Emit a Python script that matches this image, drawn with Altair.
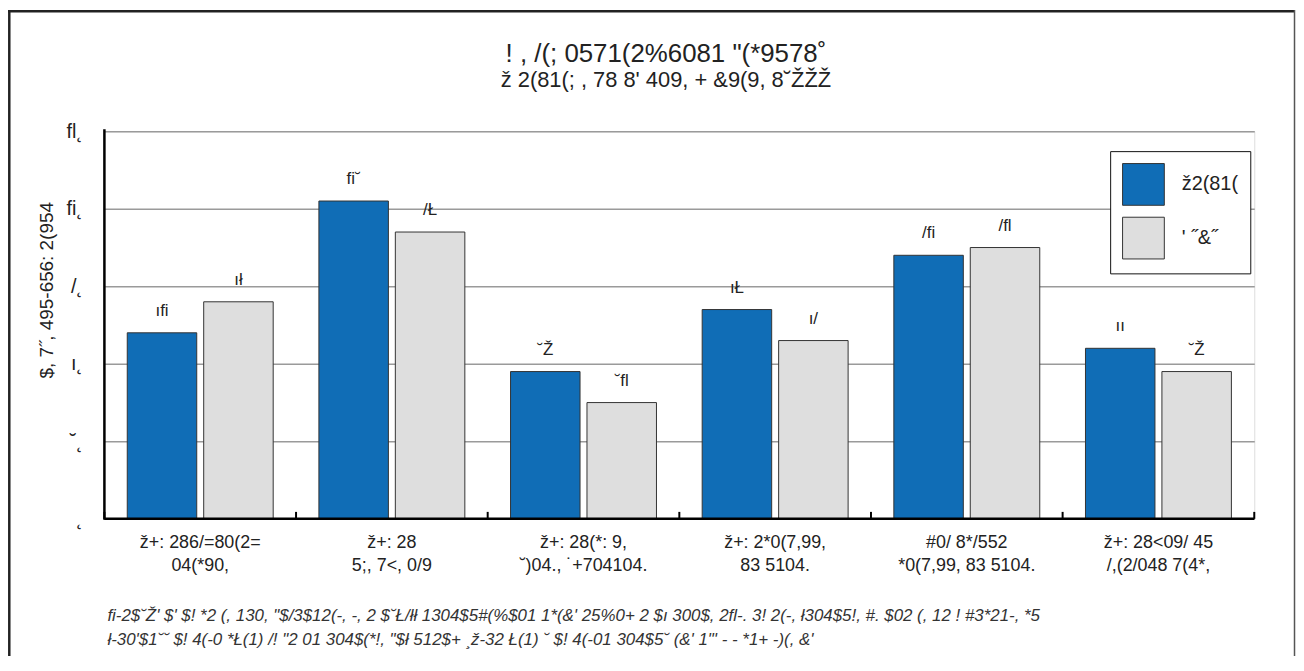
import json
import altair as alt
import pandas as pd

# ---------------- data ----------------
categories = [
    "ž+: 286/=80(2=|04(*90,",
    "ž+: 28|5;, 7<, 0/9",
    "ž+: 28(*: 9,|˘)04., ˙+704104.",
    "ž+: 2*0(7,99,|83 5104.",
    "#0/ 8*/552|*0(7,99, 83 5104.",
    "ž+: 28<09/ 45|/,(2/048 7(4*,",
]
series_names = ["ž2(81(", "'  ˝&˝"]
values_blue = [24, 41, 19, 27, 34, 22]
values_gray = [28, 37, 15, 23, 35, 19]
y_ticks = [0, 10, 20, 30, 40, 50]
y_tick_labels = ["˛", "˘˛", "ı˛", "/˛", "fi˛", "fl˛"]
digit_glyphs = {"0": "˛", "1": "˘", "2": "ı", "3": "/", "4": "fi",
                "5": "fl", "6": "6", "7": "Ł", "8": "ł", "9": "Ž"}

title_1 = '! , /(; 0571(2%6081 "(*9578˚'
title_2 = "ž 2(81(; , 78 8' 409, + &9(9, 8˘ŽŽŽ"
y_title = "$, 7˝, 495-656: 2(954"
note_1 = ("fi-2$˘Ž' $' $! *2 (, 130, \"$/3$12(-, -, 2 $˘Ł/łł 1304$5#(%$01 1*(&' "
          "25%0+ 2 $ı 300$, 2fl-. 3! 2(-, ł304$5!, #. $02 (, 12 ! #3*21-, *5")
note_2 = ("ł-30'$1˘˘ $! 4(-0 *Ł(1) /! \"2 01 304$(*!, \"$ł 512$+ ¸ž-32 Ł(1) ˘ $! "
          "4(-01 304$5˘ (&' 1\"' - - *1+ -)(, &'")

BLUE = "#106db6"
GRAY = "#dedede"
FONT = "Liberation Sans, Arial, sans-serif"

W, H = 1157, 390

rows = []
for c, b, g in zip(categories, values_blue, values_gray):
    rows.append({"cat": c, "series": series_names[0], "value": b})
    rows.append({"cat": c, "series": series_names[1], "value": g})
df = pd.DataFrame(rows)
df["label"] = df["value"].map(lambda v: "".join(digit_glyphs[ch] for ch in str(v)))

x_enc = alt.X(
    "cat:N", sort=categories,
    scale=alt.Scale(paddingInner=0, paddingOuter=0),
    axis=alt.Axis(title=None, labelAngle=0, ticks=False, domain=False,
                  labelExpr="split(datum.label, '|')", labelFontSize=18,
                  labelPadding=15, labelLineHeight=23, labelColor="#222",
                  labelFont=FONT),
)
xoff_enc = alt.XOffset("series:N", sort=series_names,
                       scale=alt.Scale(paddingInner=0.0909, paddingOuter=0.299))
y_enc = alt.Y(
    "value:Q", scale=alt.Scale(domain=[0, 50]),
    axis=alt.Axis(title=None, values=y_ticks, ticks=False, domain=False,
                  grid=True, gridColor="#9a9a9a", gridWidth=1.5,
                  labelExpr=json.dumps(y_tick_labels) + "[round(datum.value / 10)]",
                  labelFontSize=20, labelPadding=22, labelColor="#222",
                  labelFont=FONT),
)

bars = alt.Chart(df).mark_bar(stroke="#333", strokeWidth=1).encode(
    x=x_enc, xOffset=xoff_enc, y=y_enc,
    color=alt.Color("series:N", sort=series_names,
                    scale=alt.Scale(domain=series_names, range=[BLUE, GRAY]),
                    legend=alt.Legend(title=None, orient="none", legendX=1012, legendY=20,
                                      fillColor="white", strokeColor="#111",
                                      padding=12, symbolType="square", symbolSize=1764,
                                      symbolStrokeColor="#333", symbolStrokeWidth=1,
                                      labelFontSize=20, labelOffset=17, rowPadding=7,
                                      labelFont=FONT, labelColor="#222")),
)

bar_labels = alt.Chart(df).mark_text(
    dy=-13, baseline="bottom", fontSize=17, font=FONT, color="#222"
).encode(
    x=alt.X("cat:N", sort=categories), xOffset=alt.XOffset("series:N", sort=series_names),
    y="value:Q", text="label:N",
)

tick_df = pd.DataFrame({"cat": categories})
ticks = alt.Chart(tick_df).mark_rule(color="black", strokeWidth=2).encode(
    x=alt.X("cat:N", sort=categories, bandPosition=0),
    y=alt.value(H), y2=alt.value(H - 7),
)

one = pd.DataFrame({"k": [0]})
end_tick = alt.Chart(one).mark_rule(color="black", strokeWidth=2).encode(
    x=alt.value(W), y=alt.value(H), y2=alt.value(H - 7))
x_line = alt.Chart(one).mark_rule(color="black", strokeWidth=2.5).encode(
    x=alt.value(0), x2=alt.value(W), y=alt.value(H))
y_line = alt.Chart(one).mark_rule(color="black", strokeWidth=2.5).encode(
    x=alt.value(0), y=alt.value(-2), y2=alt.value(H + 1))

# outer frame
frame_top = alt.Chart(one).mark_rule(color="#222", strokeWidth=2.5).encode(
    x=alt.value(-97), x2=alt.value(1198), y=alt.value(-120.7))
frame_left = alt.Chart(one).mark_rule(color="#222", strokeWidth=2.5).encode(
    x=alt.value(-95.7), y=alt.value(-122), y2=alt.value(528))
frame_right = alt.Chart(one).mark_rule(color="#555", strokeWidth=1.5).encode(
    x=alt.value(1197.5), y=alt.value(-122), y2=alt.value(528))

def text_layer(txt, x, y, size, align="center", angle=0, italic=False, color="#222"):
    kw = dict(align=align, baseline="alphabetic", fontSize=size, font=FONT, color=color)
    if angle:
        kw["angle"] = angle
    if italic:
        kw["fontStyle"] = "italic"
    return alt.Chart(pd.DataFrame({"t": [txt]})).mark_text(**kw).encode(
        x=alt.value(x), y=alt.value(y), text="t:N")

t1 = text_layer(title_1, 565, -70, 26)
t2 = text_layer(title_2, 565, -45, 22)
yt = text_layer(y_title, -52, 160, 19, angle=270)
n1 = text_layer(note_1, 3, 493, 17, align="left", italic=True, color="#333")
n2 = text_layer(note_2, 3, 517, 17, align="left", italic=True, color="#333")

chart = alt.layer(
    bars, bar_labels, ticks, end_tick, x_line, y_line,
    frame_top, frame_left, frame_right, t1, t2, yt, n1, n2,
).properties(
    width=W, height=H,
    padding={"left": 97, "top": 122, "right": 42, "bottom": 138},
    autosize=alt.AutoSizeParams(type="none"),
).configure_view(stroke=None).configure(background="white")

chart.save("out.html", embed_options={"renderer": "svg", "actions": False})
